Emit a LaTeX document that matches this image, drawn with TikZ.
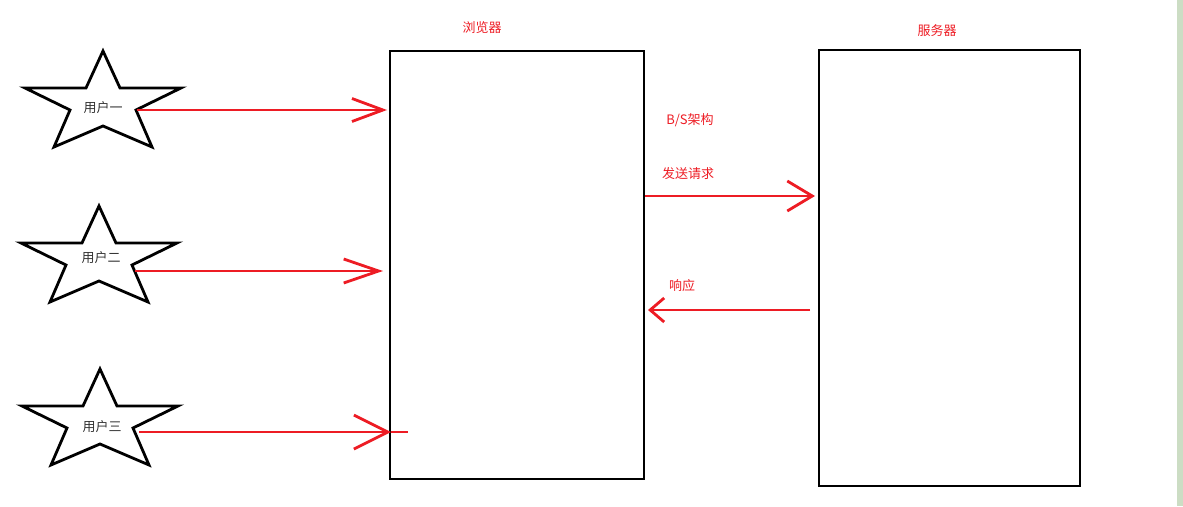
\documentclass[tikz,border=0pt]{standalone}
\usepackage{fontspec}
\setmainfont{Noto Sans CJK SC}
\usetikzlibrary{arrows.meta}
\definecolor{paintred}{RGB}{237,28,36}
\definecolor{sidebar}{RGB}{204,221,196}
\begin{document}
\begin{tikzpicture}[x=1pt, y=-1pt,
  box/.style={draw, line width=2.4pt, inner sep=0pt},
  starline/.style={draw, line width=2.8pt, line join=miter},
  redlabel/.style={text=paintred, font=\fontsize{13}{15}\selectfont, inner sep=1pt},
  userlabel/.style={text=black!80, font=\fontsize{13}{15}\selectfont, inner sep=1pt},
  redarrow/.style 2 args={draw=paintred, line width=2.8pt, -{Straight Barb[length=#1pt, width=#2pt]}}]
\useasboundingbox (0,0) rectangle (1183,506);
\fill[sidebar] (1177,0) rectangle (1183,506);
\node[box, minimum width=254pt, minimum height=428pt] (browser) at (517,265){};
\node[box, minimum width=261pt, minimum height=436pt] (server) at (949.5,268){};
\node[redlabel] (browsertitle) at (482,28){浏览器};
\node[redlabel] (servertitle) at (937,31){服务器};
\node[redlabel] (bs) at (690,120){B/S架构};
\node[redlabel] (sendlabel) at (688,174){发送请求};
\node[redlabel] (replylabel) at (682,286){响应};
% stars
\draw[starline] (103,51) -- ++(17,37) -- ++(61,0) -- ++(-45,22) -- ++(16,37) -- ++(-49,-21) -- ++(-49,21) -- ++(16,-37) -- ++(-45,-22) -- ++(61,0) -- cycle;
\draw[starline] (99,206) -- ++(17,37) -- ++(61,0) -- ++(-45,22) -- ++(16,37) -- ++(-49,-21) -- ++(-49,21) -- ++(16,-37) -- ++(-45,-22) -- ++(61,0) -- cycle;
\draw[starline] (100,369) -- ++(17,37) -- ++(61,0) -- ++(-45,22) -- ++(16,37) -- ++(-49,-21) -- ++(-49,21) -- ++(16,-37) -- ++(-45,-22) -- ++(61,0) -- cycle;
\node[userlabel] (user1) at (103,108){用户一};
\node[userlabel] (user2) at (101,258){用户二};
\node[userlabel] (user3) at (102,427){用户三};
\coordinate (start1) at (137,110);
\coordinate (start2) at (135,271);
\coordinate (start3) at (139,432);
\coordinate (tip1) at (387,110);
\coordinate (tip2) at (383,271);
\coordinate (tip3) at (391,432);
\coordinate (tail3) at (408,432);
\draw[redarrow={31}{23}] (start1) -- (tip1);
\draw[redarrow={35}{24}] (start2) -- (tip2);
\draw[redarrow={34}{34}] (start3) -- (tip3);
\draw[draw=paintred, line width=2.8pt] (tip3) -- (tail3);
% request and response
\coordinate (sendfrom) at (645,196);
\coordinate (sendto) at (815,196);
\coordinate (replyfrom) at (810,310);
\coordinate (replyto) at (648,310);
\draw[redarrow={25}{30}] (sendfrom) -- (sendto);
\draw[redarrow={14}{24}] (replyfrom) -- (replyto);
\end{tikzpicture}
\end{document}
